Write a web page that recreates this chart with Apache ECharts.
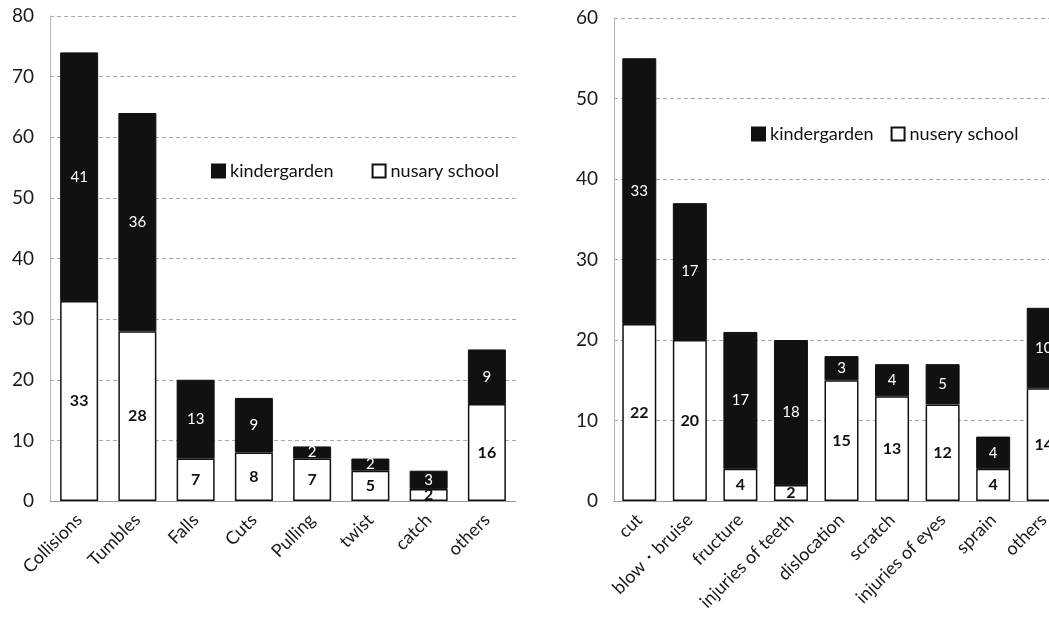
<!DOCTYPE html>
<html>
<head>
<meta charset="utf-8">
<script src="https://cdn.jsdelivr.net/npm/echarts@6/dist/echarts.min.js"></script>
<style>
  html, body { margin: 0; padding: 0; background: #fff; }
  #chart { width: 1049px; height: 625px; }
</style>
</head>
<body>
<div id="chart"></div>
<script>
// Injury causes (left panel)
const causeCategories = ['Collisions', 'Tumbles', 'Falls', 'Cuts', 'Pulling', 'twist', 'catch', 'others'];
const causeNursery = [33, 28, 7, 8, 7, 5, 2, 16];
const causeKinder = [41, 36, 13, 9, 2, 2, 3, 9];
const causeTicks = [0, 10, 20, 30, 40, 50, 60, 70, 80];

// Injury types (right panel)
const typeCategories = ['cut', 'blow\u30FBbruise', 'fructure', 'injuries of teeth', 'dislocation', 'scratch', 'injuries of eyes', 'sprain', 'others'];
const typeNursery = [22, 20, 4, 2, 15, 13, 12, 4, 14];
const typeKinder = [33, 17, 17, 18, 3, 4, 5, 4, 10];
const typeTicks = [0, 10, 20, 30, 40, 50, 60];

const FONT = 'Lato';
const BLACK = '#111111';

function yAxis(gridIndex, ticks) {
  return {
    type: 'value', gridIndex,
    min: ticks[0], max: ticks[ticks.length - 1], interval: ticks[1] - ticks[0],
    axisLine: { show: true, lineStyle: { color: '#b4b4b4', width: 1 } },
    axisTick: { show: false },
    axisLabel: { color: '#1a1a1a', fontSize: 19, fontFamily: FONT, margin: 16 },
    splitLine: { show: true, lineStyle: { color: '#a8a8b0', type: [4, 3], width: 1 } }
  };
}

function xAxis(gridIndex, cats) {
  return {
    type: 'category', gridIndex, data: cats,
    axisLine: { show: true, lineStyle: { color: '#9a9a9a', width: 1 } },
    axisTick: { show: false },
    axisLabel: { color: '#1a1a1a', fontSize: 18, fontFamily: FONT, rotate: 45, margin: 16, interval: 0 }
  };
}

function stackPair(idx, nursery, kinder, nurseryName, barWidth) {
  return [
    {
      name: nurseryName, type: 'bar', stack: 's' + idx,
      xAxisIndex: idx, yAxisIndex: idx, data: nursery, barWidth,
      itemStyle: { color: '#ffffff', borderColor: BLACK, borderWidth: 1.5 },
      label: { show: true, position: 'inside', color: BLACK, fontWeight: 'bold', fontSize: 16, fontFamily: FONT }
    },
    {
      name: 'kindergarden', type: 'bar', stack: 's' + idx,
      xAxisIndex: idx, yAxisIndex: idx, data: kinder, barWidth,
      itemStyle: { color: BLACK, borderColor: BLACK, borderWidth: 1 },
      label: { show: true, position: 'inside', color: '#ffffff', fontSize: 15, fontFamily: FONT }
    }
  ];
}

const chart = echarts.init(document.getElementById('chart'), null, { renderer: 'canvas' });
chart.setOption({
  backgroundColor: '#ffffff',
  animation: false,
  grid: [
    { left: 50, top: 16, width: 466, height: 485, outerBoundsMode: 'none', containLabel: false },
    { left: 614, top: 18, width: 455, height: 483, outerBoundsMode: 'none', containLabel: false }
  ],
  legend: [
    {
      data: ['kindergarden', 'nusary school'],
      left: 206, top: 157, itemGap: 38, itemWidth: 13, itemHeight: 13,
      textStyle: { fontSize: 18, fontFamily: FONT, color: '#111' },
      icon: 'rect'
    },
    {
      data: ['kindergarden', 'nusery school'],
      left: 746, top: 120, itemGap: 17, itemWidth: 13, itemHeight: 13,
      textStyle: { fontSize: 18, fontFamily: FONT, color: '#111' },
      icon: 'rect'
    }
  ],
  xAxis: [xAxis(0, causeCategories), xAxis(1, typeCategories)],
  yAxis: [yAxis(0, causeTicks), yAxis(1, typeTicks)],
  series: [
    ...stackPair(0, causeNursery, causeKinder, 'nusary school', 38),
    ...stackPair(1, typeNursery, typeKinder, 'nusery school', 34)
  ]
});
</script>
</body>
</html>
